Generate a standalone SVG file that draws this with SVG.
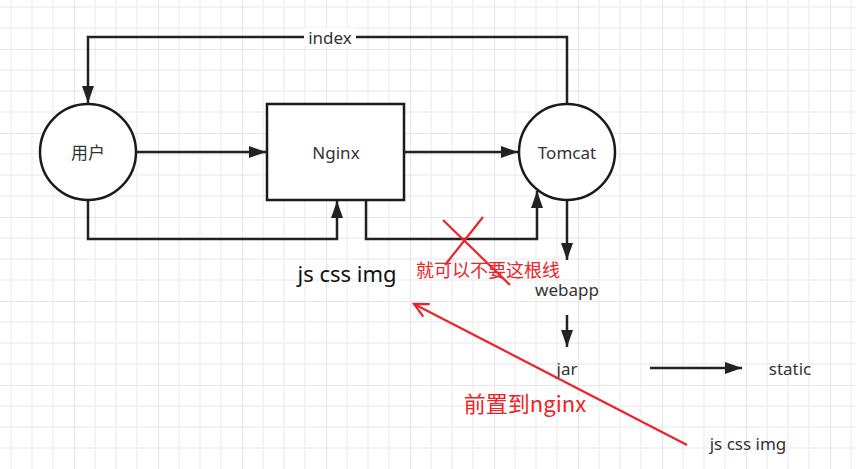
<svg xmlns="http://www.w3.org/2000/svg" width="856" height="469" viewBox="0 0 856 469">
<style>
.t{font-family:"Noto Sans","Noto Sans CJK SC",sans-serif;fill:#333;text-anchor:middle;dominant-baseline:central}
.node{fill:#fff;stroke:#1a1a1a;stroke-width:2.5}
.edge{fill:none;stroke:#222;stroke-width:2.5}
.red{fill:none;stroke:#ee2228;stroke-width:2.2}
.rt{font-family:"Noto Sans CJK SC",sans-serif;fill:#ee2228;text-anchor:middle;dominant-baseline:central}
</style>
<defs>
<pattern id="grid" patternUnits="userSpaceOnUse" x="74" y="49" width="84" height="84">
<path d="M21 0V84M42 0V84M63 0V84M0 21H84M0 42H84M0 63H84" stroke="#efefef" stroke-width="1.3" fill="none"/>
<path d="M0 0V84M0 0H84" stroke="#e0e0e0" stroke-width="1.6" fill="none"/>
</pattern>
<marker id="ah" markerUnits="userSpaceOnUse" markerWidth="18" markerHeight="14" refX="17" refY="6" orient="auto">
<path d="M0 0L17 6L0 12z" fill="#222"/>
</marker>
<marker id="rah" markerUnits="userSpaceOnUse" markerWidth="20" markerHeight="20" refX="15" refY="8" orient="auto">
<path d="M1 1L15 8L1 15" fill="none" stroke="#ee2228" stroke-width="2.2"/>
</marker>
</defs>
<rect width="856" height="469" fill="#fff"/>
<rect width="856" height="469" fill="url(#grid)"/>
<g id="connectors">
<path class="edge" d="M567 104V37H88V103" marker-end="url(#ah)"/>
<rect x="304" y="28" width="52" height="18" fill="#fff"/>
<text class="t" x="330" y="37" font-size="17">index</text>
<path class="edge" d="M136 152H266" marker-end="url(#ah)"/>
<path class="edge" d="M405 152H518" marker-end="url(#ah)"/>
<path class="edge" d="M88 200V239H337V201" marker-end="url(#ah)"/>
<path class="edge" d="M366 200V239H537V191" marker-end="url(#ah)"/>
<path class="edge" d="M567 200V260" marker-end="url(#ah)"/>
<path class="edge" d="M567 315V347" marker-end="url(#ah)"/>
<path class="edge" d="M650 368H742" marker-end="url(#ah)"/>
</g>
<g id="user"><circle class="node" cx="88" cy="152" r="48"/><text class="t" x="88" y="152" font-size="17">用户</text></g>
<g id="nginx"><rect class="node" x="267" y="104" width="137" height="96"/><text class="t" x="336" y="152" font-size="17">Nginx</text></g>
<g id="tomcat"><circle class="node" cx="567" cy="152" r="48"/><text class="t" x="567" y="152" font-size="17">Tomcat</text></g>
<g id="webapp"><text class="t" x="567" y="289" font-size="17">webapp</text></g>
<g id="jar"><text class="t" x="567" y="368" font-size="17">jar</text></g>
<g id="static"><text class="t" x="790" y="368" font-size="17">static</text></g>
<g id="jscss2"><text class="t" x="748" y="443" font-size="17">js css img</text></g>
<g id="jscss1"><text class="t" x="347" y="273" font-size="22" style="fill:#111">js css img</text></g>
<g id="annotations">
<path class="red" d="M443 220L510 285M483 217L445 265"/>
<text class="rt" x="488" y="269" font-size="18">就可以不要这根线</text>
<path class="red" d="M687 445L414 304" marker-end="url(#rah)"/>
<text class="rt" x="525" y="402" font-size="22">前置到nginx</text>
</g>
</svg>
